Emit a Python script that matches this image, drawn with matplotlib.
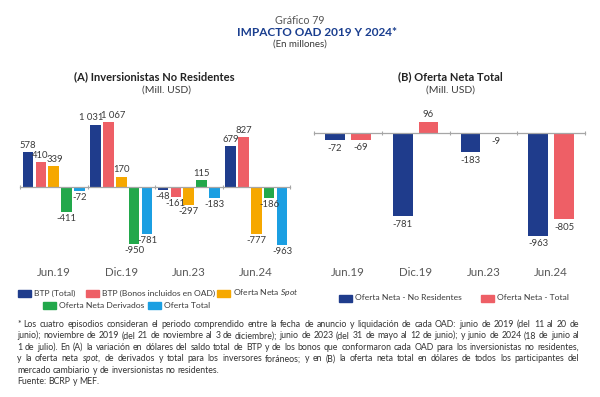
import matplotlib
matplotlib.use("Agg")
import matplotlib.pyplot as plt
from matplotlib.patches import Rectangle
import matplotlib.transforms as mtransforms
import numpy as np

plt.rcParams['font.family'] = ['Lato', 'DejaVu Sans']
plt.rcParams['mathtext.fontset'] = 'custom'
plt.rcParams['mathtext.it'] = 'Lato:italic'
plt.rcParams['mathtext.rm'] = 'Lato'

# ---- data ----
categories = ["Jun.19", "Dic.19", "Jun.23", "Jun.24"]

# (A) Inversionistas No Residentes
btp_total = [578, 1031, -48, 679]
btp_bonos = [410, 1067, -161, 827]
oferta_spot = [339, 170, -297, -777]
oferta_deriv = [-411, -950, 115, -186]
oferta_total = [-72, -781, -183, -963]

# (B) Oferta Neta Total
neta_no_res = [-72, -781, -183, -963]
neta_total = [-69, 96, -9, -805]

navy = "#1F3C8C"
red = "#EE5F66"
orange = "#F6A800"
green = "#22A84B"
blue = "#1B9FE2"
txt = "#3A3A3A"
axis_grey = "#A6A6A6"

W, H = 600.0, 397.0
fig = plt.figure(figsize=(6, 3.97), dpi=100)
renderer = fig.canvas.get_renderer()


def px_axes(left, right, top, bottom):
    return fig.add_axes([left / W, 1 - bottom / H, (right - left) / W, (bottom - top) / H])


def fmt(v):
    return "{:,}".format(v).replace(",", " ")


def setup_axis(ax, ymin, ymax):
    ax.set_xlim(-0.5, len(categories) - 0.5)
    ax.set_ylim(ymin, ymax)
    for s in ["top", "right", "left"]:
        ax.spines[s].set_visible(False)
    ax.spines["bottom"].set_position(("data", 0))
    ax.spines["bottom"].set_color(axis_grey)
    ax.spines["bottom"].set_linewidth(0.9)
    ax.set_yticks([])
    ax.set_xticks(np.arange(len(categories) + 1) - 0.5)
    ax.set_xticklabels([])
    ax.tick_params(axis="x", direction="inout", length=3, color=axis_grey, width=0.8)
    trans = mtransforms.blended_transform_factory(ax.transData, ax.transAxes)
    for i, c in enumerate(categories):
        ax.text(i, -10 / 152.0, c, transform=trans, ha="center", va="center",
                fontsize=8.3, color="#585858")
    ax.patch.set_alpha(0)


x = np.arange(len(categories))

# ---- panel A ----
axA = px_axes(20, 290, 110, 262)
setup_axis(axA, -1245, 1272)
series_a = [btp_total, btp_bonos, oferta_spot, oferta_deriv, oferta_total]
colors_a = [navy, red, orange, green, blue]
pitch, width = 0.191, 0.156
labels_a = []
for i, (vals, col) in enumerate(zip(series_a, colors_a)):
    bars = axA.bar(x + (i - 2) * pitch, vals, width=width, color=col, zorder=2)
    anns = axA.bar_label(bars, labels=[fmt(v) for v in vals], padding=1.5,
                         fontsize=6.8, color=txt)
    labels_a.append(anns)


def nudge(ann, dx):
    ann.xyann = (dx, ann.xyann[1])


# crowded labels are pushed apart a little, as in the original
nudge(labels_a[0][1], -3.4)
nudge(labels_a[1][1], 3.2)
nudge(labels_a[1][0], -0.6)
nudge(labels_a[2][0], 0.6)

# ---- panel B ----
axB = px_axes(314, 585, 110, 262)
setup_axis(axB, -1205, 210)
pitch_b, width_b = 0.38, 0.29
for i, (vals, col) in enumerate(zip([neta_no_res, neta_total], [navy, red])):
    bars = axB.bar(x + (i - 0.5) * pitch_b, vals, width=width_b, color=col, zorder=2)
    axB.bar_label(bars, labels=[fmt(v) for v in vals], padding=2.5,
                  fontsize=6.8, color=txt)


def put(xp, yp, s, **kw):
    # place text by pixel position from the top-left corner
    return fig.text(xp / W, 1 - yp / H, s, **kw)


def width_px(t):
    return t.get_window_extent(renderer).width


# ---- titles ----
put(300, 20, "Gráfico 79", ha="center", va="center", fontsize=7.7, color="#555555")
put(317, 33, "IMPACTO OAD 2019 Y 2024*", ha="center", va="center",
    fontsize=8.5, fontweight="bold", color="#1A3E8F")
put(300, 44, "(En millones)", ha="center", va="center", fontsize=7, color=txt)

put(154, 77, "(A) Inversionistas No Residentes", ha="center", va="center",
    fontsize=8, fontweight="bold", color="#222222")
put(166, 90, "(Mill. USD)", ha="center", va="center", fontsize=7.5, color=txt)
put(450, 77, "(B) Oferta Neta Total", ha="center", va="center",
    fontsize=8, fontweight="bold", color="#222222")
put(450, 90, "(Mill. USD)", ha="center", va="center", fontsize=7.5, color=txt)

# ---- legends ----
legend_items = [
    (18, 293, navy, "BTP (Total)"),
    (86, 293, red, "BTP (Bonos incluidos en OAD)"),
    (217, 293, orange, "Oferta Neta $\\it{Spot}$"),
    (43, 305, green, "Oferta Neta Derivados"),
    (148, 305, blue, "Oferta Total"),
    (339, 298, navy, "Oferta Neta - No Residentes"),
    (481, 298, red, "Oferta Neta - Total"),
]
for lx, ly, col, lab in legend_items:
    fig.patches.append(Rectangle((lx / W, 1 - (ly + 3.5) / H), 13 / W, 7 / H,
                                 transform=fig.transFigure, color=col))
    put(lx + 16, ly + 2.5, lab, ha="left", va="baseline", fontsize=6.1, color=txt)

# ---- footnote (justified, word by word) ----
foot_lines = [
    "* Los cuatro episodios consideran el periodo comprendido entre la fecha de anuncio y liquidación de cada OAD: junio de 2019 (del 11 al 20 de",
    "junio); noviembre de 2019 (del 21 de noviembre al 3 de diciembre); junio de 2023 (del 31 de mayo al 12 de junio); y junio de 2024 (18 de junio al",
    "1 de julio). En (A) la variación en dólares del saldo total de BTP y de los bonos que conformaron cada OAD para los inversionistas no residentes,",
    "y la oferta neta $\\it{spot}$, de derivados y total para los inversores foráneos; y en (B) la oferta neta total en dólares de todos los participantes del",
    "mercado cambiario y de inversionistas no residentes.",
    "Fuente: BCRP y MEF.",
]
fx0, fx1 = 17, 579
fsize = 6.8
probe = [put(0, 0, l, fontsize=fsize) for l in foot_lines[:4]]
longest = max(width_px(p) for p in probe)
for p in probe:
    p.remove()
fsize = fsize * 0.985 * (fx1 - fx0) / longest
sp = [put(0, 0, "a a", fontsize=fsize), put(0, 0, "aa", fontsize=fsize)]
space = width_px(sp[0]) - width_px(sp[1])
for p in sp:
    p.remove()

for k, line in enumerate(foot_lines):
    y = 327 + k * 11.4
    words = line.split(" ")
    objs = [put(0, y, w, ha="left", va="baseline", fontsize=fsize, color="#333333")
            for w in words]
    widths = [width_px(o) for o in objs]
    if k < 4:
        gap = (fx1 - fx0 - sum(widths)) / (len(words) - 1)
    else:
        gap = space
    xx = fx0
    for o, w in zip(objs, widths):
        o.set_x(xx / W)
        xx += w + gap

fig.savefig("out.png", dpi=100)
